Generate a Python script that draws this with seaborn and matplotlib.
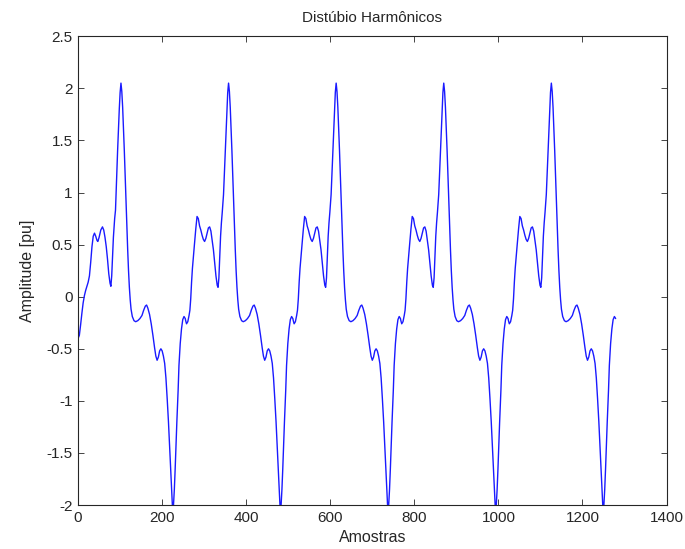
import numpy as np
import pandas as pd
import seaborn as sns
import matplotlib
matplotlib.use("Agg")
import matplotlib.pyplot as plt
from matplotlib.ticker import FuncFormatter

# Samples per fundamental cycle and number of cycles recorded
PERIOD = 256
N_CYCLES = 5

# First cycle, start-up portion (sample index, amplitude in pu)
first_idx = [0, 3, 6, 9, 12, 15, 18, 21, 24, 27, 30, 33, 36, 39, 42, 45, 47,
             50, 54, 58, 61, 64, 67, 70, 73, 76, 78, 80, 82, 84, 87, 89]
first_amp = [-0.40, -0.37, -0.27, -0.16, -0.06, 0.01, 0.06, 0.10, 0.14, 0.20,
             0.33, 0.48, 0.58, 0.61, 0.58, 0.54, 0.53, 0.57, 0.64, 0.67, 0.64,
             0.57, 0.48, 0.36, 0.22, 0.13, 0.10, 0.20, 0.38, 0.57, 0.75, 0.83]

# Steady-state cycle (sample index within the cycle, amplitude in pu)
cycle_idx = [0, 2, 5, 8, 10, 12, 14, 16, 18, 21, 24, 27, 30, 33, 36, 39, 42,
             45, 48, 51, 54, 57, 60, 63, 66, 69, 72, 75, 77, 79, 81, 83, 85,
             87, 90, 92, 94, 96, 98, 100, 102, 104, 106, 108, 110, 112, 114,
             116, 118, 120, 122, 124, 126, 129, 133, 137, 142, 147, 152, 156,
             160, 163, 166, 170, 174, 178, 182, 185, 188, 191, 194, 197, 200,
             203, 206, 209, 212, 215, 218, 221, 223, 225, 227, 229, 231, 233,
             235, 238, 240, 243, 246, 249, 252, 255]
cycle_amp = [-0.23, -0.26, -0.24, -0.18, -0.13, -0.02, 0.14, 0.27, 0.37, 0.51,
             0.65, 0.77, 0.75, 0.68, 0.64, 0.59, 0.55, 0.53, 0.56, 0.61, 0.66,
             0.67, 0.63, 0.54, 0.45, 0.32, 0.20, 0.11, 0.09, 0.18, 0.38, 0.58,
             0.71, 0.81, 0.98, 1.18, 1.40, 1.60, 1.80, 1.96, 2.05, 1.97, 1.82,
             1.62, 1.40, 1.16, 0.92, 0.68, 0.45, 0.25, 0.09, -0.03, -0.12,
             -0.19, -0.23, -0.24, -0.23, -0.21, -0.18, -0.13, -0.09, -0.08,
             -0.11, -0.17, -0.26, -0.37, -0.49, -0.57, -0.61, -0.58, -0.52,
             -0.50, -0.52, -0.57, -0.64, -0.78, -0.98, -1.20, -1.46, -1.72,
             -1.90, -2.06, -2.00, -1.85, -1.65, -1.42, -1.20, -0.90, -0.66,
             -0.45, -0.31, -0.22, -0.19, -0.21]

x_ticks = [0, 200, 400, 600, 800, 1000, 1200, 1400]
y_ticks = [-2, -1.5, -1, -0.5, 0, 0.5, 1, 1.5, 2, 2.5]

# Assemble the full record: start-up portion, rest of cycle 1, then cycles 2-5
first = pd.DataFrame({"amostra": first_idx, "amp": first_amp})
cyc = pd.DataFrame({"amostra": cycle_idx, "amp": cycle_amp})
parts = [first, cyc[cyc["amostra"] >= 92]]
for k in range(1, N_CYCLES):
    shifted = cyc.copy()
    shifted["amostra"] = shifted["amostra"] + k * PERIOD
    parts.append(shifted)
df = pd.concat(parts, ignore_index=True)

sns.set_theme(style="white")
plt.rcParams["font.family"] = ["Liberation Sans", "DejaVu Sans"]
plt.rcParams.update({
    "xtick.direction": "in", "ytick.direction": "in",
    "xtick.top": True, "ytick.right": True,
    "xtick.bottom": True, "ytick.left": True,
    "xtick.major.size": 4, "ytick.major.size": 4,
    "xtick.major.width": 0.6, "ytick.major.width": 0.6,
    "axes.edgecolor": "#262626", "axes.linewidth": 0.8,
    "xtick.color": "#262626", "ytick.color": "#262626",
    "text.color": "#262626", "axes.labelcolor": "#262626",
})

fig = plt.figure(figsize=(6.85, 5.49), dpi=100)
ax = fig.add_axes([0.114, 0.080, 0.859, 0.854])

sns.lineplot(data=df, x="amostra", y="amp", color="#1a1aff", linewidth=1.0,
             ax=ax, sort=False, estimator=None)

ax.set_xlim(0, 1400)
ax.set_ylim(-2, 2.5)
ax.set_xticks(x_ticks)
ax.set_yticks(y_ticks)
ax.yaxis.set_major_formatter(FuncFormatter(lambda v, _: f"{v:g}"))
ax.tick_params(labelsize=11, pad=4)
for s in ax.spines.values():
    s.set_visible(True)

ax.set_title("Distúbio Harmônicos", fontsize=11, pad=10)
ax.set_xlabel("Amostras", fontsize=11.5, labelpad=4)
ax.set_ylabel("Amplitude [pu]", fontsize=11.5, labelpad=8)

fig.savefig("out.png", dpi=100)
